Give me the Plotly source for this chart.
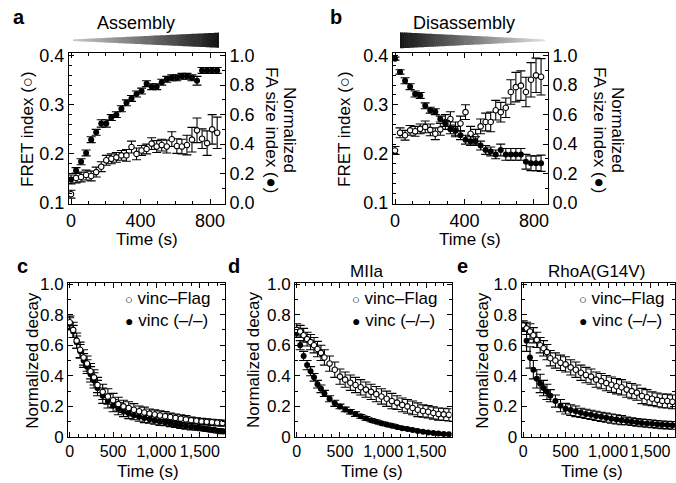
import plotly.graph_objects as go

W, H = 676, 483
FONT = "Liberation Sans, Arial, Helvetica, sans-serif"

# ---------------- data ----------------
# panel a (assembly)
a_time = [0, 29, 58, 87, 116, 145, 174, 203, 232, 261, 290, 319, 348, 377, 406,
          435, 464, 493, 522, 551, 580, 609, 638, 667, 696, 725, 754, 783, 812, 841]
a_fret = [0.118, 0.151, 0.153, 0.157, 0.155, 0.163, 0.174, 0.187, 0.190, 0.193,
          0.197, 0.197, 0.214, 0.200, 0.207, 0.210, 0.221, 0.215, 0.218, 0.215,
          0.230, 0.216, 0.215, 0.218, 0.229, 0.248, 0.231, 0.222, 0.250, 0.243]
a_fret_err = [0.008, 0.010, 0.010, 0.010, 0.010, 0.010, 0.010, 0.010, 0.010, 0.010,
              0.010, 0.012, 0.012, 0.012, 0.010, 0.010, 0.012, 0.012, 0.012, 0.013,
              0.015, 0.015, 0.015, 0.020, 0.025, 0.025, 0.020, 0.025, 0.030, 0.032]
a_fa = [0.16, 0.22, 0.28, 0.34, 0.43, 0.48, 0.54, 0.54, 0.58, 0.60,
        0.64, 0.68, 0.71, 0.74, 0.76, 0.81, 0.79, 0.79, 0.82, 0.84,
        0.85, 0.85, 0.86, 0.86, 0.85, 0.83, 0.90, 0.90, 0.90, 0.90]
a_fa_err = [0.03, 0.02, 0.02, 0.02, 0.02, 0.02, 0.025, 0.025, 0.02, 0.02,
            0.02, 0.02, 0.02, 0.02, 0.02, 0.02, 0.02, 0.02, 0.02, 0.02,
            0.02, 0.02, 0.02, 0.02, 0.02, 0.03, 0.02, 0.02, 0.02, 0.02]

# panel b (disassembly)
b_time = a_time
b_fret = [0.207, 0.243, 0.238, 0.248, 0.246, 0.251, 0.255, 0.249, 0.241, 0.250,
          0.265, 0.271, 0.250, 0.262, 0.285, 0.241, 0.235, 0.256, 0.265, 0.265,
          0.289, 0.285, 0.294, 0.326, 0.336, 0.339, 0.326, 0.351, 0.360, 0.357]
b_fret_err = [0.008, 0.010, 0.010, 0.010, 0.010, 0.010, 0.012, 0.012, 0.012, 0.012,
              0.015, 0.015, 0.015, 0.015, 0.015, 0.015, 0.015, 0.015, 0.018, 0.020,
              0.020, 0.020, 0.020, 0.025, 0.030, 0.030, 0.030, 0.035, 0.035, 0.037]
b_fa = [0.98, 0.89, 0.83, 0.79, 0.74, 0.73, 0.66, 0.63, 0.62, 0.57,
        0.54, 0.50, 0.49, 0.46, 0.43, 0.42, 0.42, 0.39, 0.36, 0.35,
        0.33, 0.36, 0.33, 0.33, 0.33, 0.33, 0.28, 0.27, 0.27, 0.27]
b_fa_err = [0.01, 0.015, 0.02, 0.02, 0.02, 0.02, 0.02, 0.02, 0.02, 0.02,
            0.02, 0.03, 0.03, 0.03, 0.03, 0.03, 0.03, 0.03, 0.03, 0.03,
            0.03, 0.04, 0.04, 0.04, 0.04, 0.04, 0.05, 0.05, 0.05, 0.055]

# panels c, d, e (decay)
decay_time = [0, 40, 80, 120, 160, 200, 240, 280, 320, 380, 440, 500, 560, 620, 680,
              740, 800, 860, 920, 980, 1040, 1100, 1160, 1220, 1280, 1340, 1400,
              1460, 1520, 1580, 1640, 1700, 1760]
c_flag = [0.75, 0.70, 0.63, 0.57, 0.52, 0.48, 0.43, 0.39, 0.34, 0.295, 0.265, 0.24,
          0.215, 0.20, 0.19, 0.178, 0.168, 0.16, 0.153, 0.147, 0.141, 0.136, 0.131,
          0.125, 0.12, 0.115, 0.11, 0.106, 0.102, 0.099, 0.096, 0.093, 0.091]
c_flag_err = [0.04, 0.05, 0.05, 0.05, 0.05, 0.05, 0.05, 0.05, 0.05, 0.05, 0.05, 0.045,
              0.045, 0.04, 0.04, 0.04, 0.035, 0.035, 0.03, 0.03, 0.03, 0.03, 0.025,
              0.025, 0.025, 0.025, 0.02, 0.02, 0.02, 0.02, 0.02, 0.02, 0.02]
c_ko = [0.74, 0.69, 0.62, 0.56, 0.50, 0.46, 0.41, 0.37, 0.32, 0.27, 0.235, 0.205,
        0.185, 0.168, 0.155, 0.143, 0.133, 0.124, 0.116, 0.108, 0.101, 0.094, 0.088,
        0.082, 0.076, 0.071, 0.066, 0.061, 0.056, 0.051, 0.046, 0.041, 0.037]
c_ko_err = [0.04, 0.04, 0.04, 0.045, 0.045, 0.045, 0.05, 0.05, 0.05, 0.05, 0.045, 0.04,
            0.04, 0.035, 0.035, 0.03, 0.03, 0.03, 0.025, 0.025, 0.025, 0.02, 0.02,
            0.02, 0.02, 0.02, 0.02, 0.015, 0.015, 0.015, 0.015, 0.015, 0.015]

d_flag = [0.70, 0.69, 0.665, 0.64, 0.62, 0.60, 0.575, 0.55, 0.52, 0.48, 0.44, 0.395,
          0.375, 0.355, 0.34, 0.325, 0.31, 0.295, 0.28, 0.265, 0.25, 0.235, 0.225,
          0.21, 0.20, 0.19, 0.178, 0.17, 0.165, 0.157, 0.15, 0.148, 0.145]
d_flag_err = [0.04, 0.04, 0.045, 0.045, 0.05, 0.05, 0.05, 0.05, 0.05, 0.05, 0.05, 0.05,
              0.05, 0.05, 0.05, 0.05, 0.05, 0.05, 0.05, 0.05, 0.05, 0.05, 0.045,
              0.045, 0.045, 0.045, 0.045, 0.04, 0.04, 0.04, 0.04, 0.04, 0.04]
d_ko = [0.68, 0.60, 0.53, 0.47, 0.43, 0.39, 0.345, 0.315, 0.285, 0.25, 0.22, 0.20,
        0.18, 0.165, 0.15, 0.135, 0.122, 0.11, 0.10, 0.09, 0.082, 0.074, 0.066,
        0.058, 0.052, 0.046, 0.04, 0.035, 0.03, 0.026, 0.023, 0.02, 0.018]
d_ko_err = [0.03, 0.03, 0.03, 0.03, 0.03, 0.025, 0.025, 0.025, 0.02, 0.02, 0.02, 0.015,
            0.015, 0.015, 0.015, 0.012, 0.012, 0.01, 0.01, 0.01, 0.01, 0.01, 0.008,
            0.008, 0.008, 0.008, 0.006, 0.006, 0.006, 0.006, 0.006, 0.006, 0.006]

e_flag = [0.73, 0.71, 0.69, 0.665, 0.635, 0.60, 0.58, 0.555, 0.515, 0.50, 0.485, 0.475,
          0.455, 0.44, 0.42, 0.405, 0.395, 0.375, 0.365, 0.352, 0.342, 0.332, 0.325,
          0.31, 0.30, 0.29, 0.268, 0.26, 0.25, 0.243, 0.236, 0.235, 0.23]
e_flag_err = [0.03, 0.04, 0.05, 0.05, 0.05, 0.05, 0.05, 0.05, 0.05, 0.05, 0.05, 0.05,
              0.05, 0.05, 0.05, 0.05, 0.05, 0.05, 0.05, 0.05, 0.05, 0.05, 0.05, 0.05,
              0.05, 0.05, 0.05, 0.05, 0.045, 0.045, 0.045, 0.045, 0.045]
e_ko = [0.72, 0.63, 0.52, 0.44, 0.38, 0.35, 0.32, 0.295, 0.27, 0.235, 0.205, 0.185,
        0.176, 0.168, 0.158, 0.151, 0.145, 0.138, 0.132, 0.126, 0.12, 0.115, 0.11,
        0.105, 0.10, 0.096, 0.092, 0.089, 0.086, 0.083, 0.08, 0.078, 0.076]
e_ko_err = [0.03, 0.07, 0.07, 0.06, 0.06, 0.06, 0.05, 0.05, 0.04, 0.04, 0.04, 0.035,
            0.035, 0.035, 0.03, 0.03, 0.03, 0.03, 0.03, 0.03, 0.03, 0.03, 0.03, 0.025,
            0.025, 0.025, 0.025, 0.025, 0.025, 0.025, 0.025, 0.025, 0.025]

legend_names = ["vinc\u2013Flag", "vinc (\u2013/\u2013)"]
panel_titles = {"d": "MIIa", "e": "RhoA(G14V)"}

# ---------------- helpers ----------------
def fx(px):
    return px / W

def fy(py):
    return 1 - py / H

fig = go.Figure()

def open_trace(x, y, err, xa, ya, name):
    return go.Scatter(
        x=x, y=y, mode="markers", name=name, xaxis=xa, yaxis=ya, showlegend=False,
        marker=dict(symbol="circle", size=5.5, color="white",
                    line=dict(color="black", width=1.1)),
        error_y=dict(type="data", array=err, visible=True, color="black",
                     thickness=1.1, width=4.5))

def filled_trace(x, y, err, xa, ya, name):
    return go.Scatter(
        x=x, y=y, mode="markers", name=name, xaxis=xa, yaxis=ya, showlegend=False,
        marker=dict(symbol="circle", size=6, color="black",
                    line=dict(color="black", width=0)),
        error_y=dict(type="data", array=err, visible=True, color="black",
                     thickness=1.1, width=4.5))

# panel a
fig.add_trace(filled_trace(a_time, a_fa, a_fa_err, "x", "y2", "FA size"))
fig.add_trace(open_trace(a_time, a_fret, a_fret_err, "x", "y", "FRET"))
# panel b
fig.add_trace(filled_trace(b_time, b_fa, b_fa_err, "x2", "y4", "FA size"))
fig.add_trace(open_trace(b_time, b_fret, b_fret_err, "x2", "y3", "FRET"))
# panels c, d, e
for (xa, ya, flag, flag_err, ko, ko_err) in [
        ("x3", "y5", c_flag, c_flag_err, c_ko, c_ko_err),
        ("x4", "y6", d_flag, d_flag_err, d_ko, d_ko_err),
        ("x5", "y7", e_flag, e_flag_err, e_ko, e_ko_err)]:
    fig.add_trace(filled_trace(decay_time, ko, ko_err, xa, ya, legend_names[1]))
    fig.add_trace(open_trace(decay_time, flag, flag_err, xa, ya, legend_names[0]))

def xax(domain, rng, tickvals, ticktext, anchor, minor_dtick, fsize):
    return dict(domain=domain, range=rng, anchor=anchor, tickvals=tickvals,
                ticktext=ticktext, showline=True, linecolor="black", linewidth=1,
                mirror="ticks", ticks="inside", ticklen=5, tickcolor="black",
                tickwidth=1, showgrid=False, zeroline=False,
                tickfont=dict(family=FONT, size=fsize, color="black"),
                tickangle=0, automargin=False, fixedrange=True,
                minor=dict(ticks="inside", ticklen=3, dtick=minor_dtick,
                           tickcolor="black", showgrid=False))

def yax(domain, rng, tickvals, ticktext, anchor, minor_dtick, mirror, fsize):
    return dict(domain=domain, range=rng, anchor=anchor, tickvals=tickvals,
                ticktext=ticktext, showline=True, linecolor="black", linewidth=1,
                mirror=mirror, ticks="inside", ticklen=5, tickcolor="black",
                tickwidth=1, showgrid=False, zeroline=False,
                tickfont=dict(family=FONT, size=fsize, color="black"),
                tickangle=0, automargin=False, fixedrange=True,
                minor=dict(ticks="inside", ticklen=3, dtick=minor_dtick,
                           tickcolor="black", showgrid=False))

top_dom = [fy(204), fy(53)]
bot_dom = [fy(437), fy(282.5)]
fret_rng = [0.098, 0.4055]
fa_rng = [(0.098 - 0.1) / 0.3, (0.4055 - 0.1) / 0.3]
fret_ticks = [0.1, 0.2, 0.3, 0.4]
fret_text = ["0.1", "0.2", "0.3", "0.4"]
fa_ticks = [0.0, 0.2, 0.4, 0.6, 0.8, 1.0]
fa_text = ["0.0", "0.2", "0.4", "0.6", "0.8", "1.0"]
t_ticks = [0, 400, 800]
t_text = ["0", "400", "800"]
d_xticks = [0, 500, 1000, 1500]
d_xtext = ["0", "500", "1,000", "1,500"]
d_yticks = [0, 0.2, 0.4, 0.6, 0.8, 1.0]
d_ytext = ["0", "0.2", "0.4", "0.6", "0.8", "1.0"]

TOPF, BYF, BXF = 18, 17, 16

layout = dict(
    width=W, height=H, margin=dict(l=0, r=0, t=0, b=0, pad=0, autoexpand=False),
    paper_bgcolor="white", plot_bgcolor="white", showlegend=False,
    font=dict(family=FONT, size=17, color="black"),
    xaxis=xax([fx(69), fx(225)], [-11.5, 886], t_ticks, t_text, "y", 100, TOPF),
    yaxis=yax(top_dom, fret_rng, fret_ticks, fret_text, "x", 0.02, False, TOPF),
    yaxis2=dict(yax(top_dom, fa_rng, fa_ticks, fa_text, "x", 0.1, False, TOPF),
                overlaying="y", side="right"),
    xaxis2=xax([fx(393), fx(548)], [-11.5, 881], t_ticks, t_text, "y3", 100, TOPF),
    yaxis3=yax(top_dom, fret_rng, fret_ticks, fret_text, "x2", 0.02, False, TOPF),
    yaxis4=dict(yax(top_dom, fa_rng, fa_ticks, fa_text, "x2", 0.1, False, TOPF),
                overlaying="y3", side="right"),
    xaxis3=xax([fx(68), fx(225)], [-20, 1790], d_xticks, d_xtext, "y5", 100, BXF),
    yaxis5=yax(bot_dom, [0, 1.01], d_yticks, d_ytext, "x3", 0.1, "ticks", BYF),
    xaxis4=xax([fx(295), fx(451.5)], [-20, 1790], d_xticks, d_xtext, "y6", 100, BXF),
    yaxis6=yax(bot_dom, [0, 1.01], d_yticks, d_ytext, "x4", 0.1, "ticks", BYF),
    xaxis5=xax([fx(521.5), fx(675)], [-20, 1790], d_xticks, d_xtext, "y7", 100, BXF),
    yaxis7=yax(bot_dom, [0, 1.01], d_yticks, d_ytext, "x5", 0.1, "ticks", BYF),
)
fig.update_layout(**layout)

# ---------------- annotations ----------------
ann = []

def text(px, py, s, size=17, angle=0, xanchor="center"):
    ann.append(dict(x=fx(px), y=fy(py), xref="paper", yref="paper", text=s,
                    showarrow=False, textangle=angle, xanchor=xanchor, yanchor="middle",
                    font=dict(family=FONT, size=size, color="black")))

# panel letters
text(19, 17, "<b>a</b>", 20)
text(336, 17, "<b>b</b>", 20)
text(22, 266, "<b>c</b>", 20)
text(234, 266, "<b>d</b>", 20)
text(462, 266, "<b>e</b>", 20)

# headers
text(136, 23, "Assembly", 18)
text(464, 23, "Disassembly", 18)
text(366.7, 271.5, panel_titles["d"], 17)
text(596.7, 271.5, panel_titles["e"], 17)

# axis titles
text(28, 129, "FRET index (\u25cb)", 17, -90)
text(345, 129, "FRET index (\u25cb)", 17, -90)
text(290, 130, "Normalized", 17, 90)
text(272, 130, "FA size index (\u25cf)", 17, 90)
text(618, 130, "Normalized", 17, 90)
text(600, 130, "FA size index (\u25cf)", 17, 90)
text(147, 239, "Time (s)", 17)
text(470, 239, "Time (s)", 17)
for cx in (31.7, 253, 481.7):
    text(cx, 360, "Normalized decay", 17, -90)
for cx in (148, 371.7, 591.7):
    text(cx, 471, "Time (s)", 17)

# legends (symbol + label text)
for lx in (123, 350, 577):
    text(lx, 298.5, "<span style='font-size:13px'>\u25cb</span> " + legend_names[0], 17,
         xanchor="left")
    text(lx, 320, "<span style='font-size:14px'>\u25cf</span> " + legend_names[1], 17,
         xanchor="left")

fig.update_layout(annotations=ann)

# ---------------- gradient wedges ----------------
shapes = []

def wedge(x0, x1, yc, h0, h1, g0, g1, n=70):
    for i in range(n):
        xa = x0 + (x1 - x0) * i / n
        xb = x0 + (x1 - x0) * (i + 1) / n
        ha = h0 + (h1 - h0) * i / n
        hb = h0 + (h1 - h0) * (i + 1) / n
        t = (i + 0.5) / n
        g = int(round(g0 + (g1 - g0) * t))
        xb2 = min(xb + 0.6, x1)
        path = (f"M {fx(xa)},{fy(yc - ha)} L {fx(xb2)},{fy(yc - hb)} "
                f"L {fx(xb2)},{fy(yc + hb)} L {fx(xa)},{fy(yc + ha)} Z")
        shapes.append(dict(type="path", path=path, xref="paper", yref="paper",
                           fillcolor=f"rgb({g},{g},{g})", line=dict(width=0),
                           layer="above"))

wedge(73, 219, 40.2, 0.8, 7.6, 200, 20)
wedge(400, 545, 40.3, 8.0, 0.8, 20, 225)
fig.update_layout(shapes=shapes)

fig.write_html(
    "out.html",
    config=dict(displayModeBar=False),
    post_script="document.body.style.margin='0';document.body.style.overflow='hidden';",
)
